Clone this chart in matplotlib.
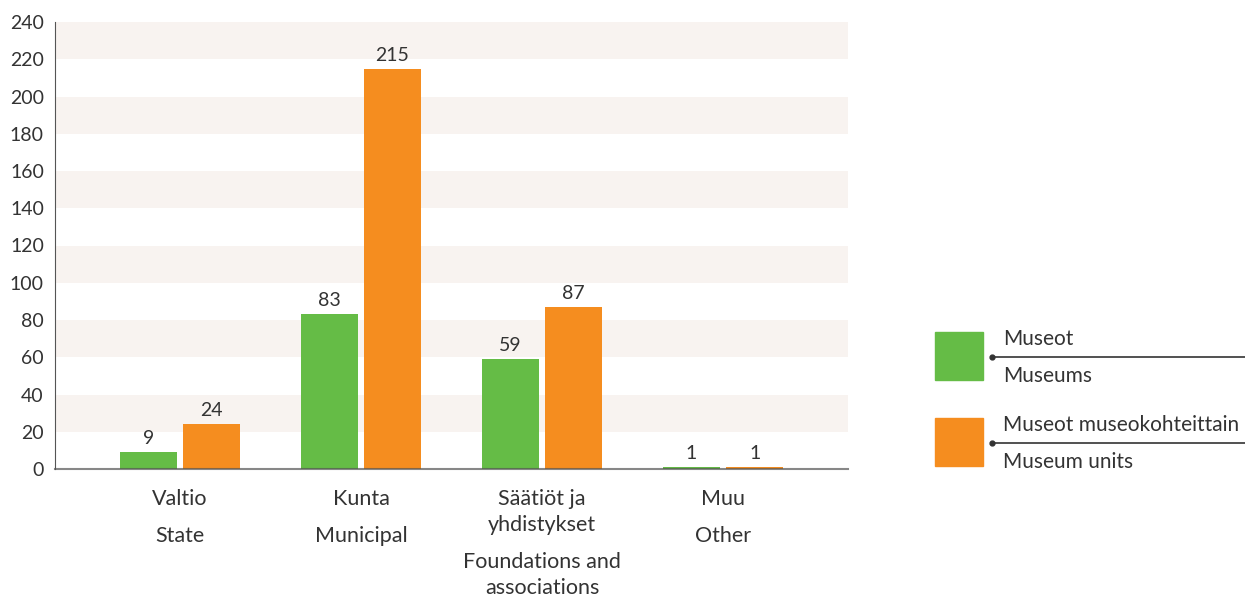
import matplotlib.pyplot as plt
from matplotlib.patches import Rectangle
from matplotlib.lines import Line2D

plt.rcParams['font.family'] = ['Lato', 'DejaVu Sans']

# Data
cat_fi = [['Valtio'], ['Kunta'], ['Säätiöt ja', 'yhdistykset'], ['Muu']]
cat_en = [['State'], ['Municipal'], ['Foundations and', 'associations'], ['Other']]
museot = [9, 83, 59, 1]
units = [24, 215, 87, 1]
legend_fi = ['Museot', 'Museot museokohteittain']
legend_en = ['Museums', 'Museum units']
yticks = list(range(0, 241, 20))

green = '#65bc46'
orange = '#f58d1f'
txt = '#333333'

W, H = 1245, 597
fig = plt.figure(figsize=(W / 100, H / 100), dpi=100)
ax = fig.add_axes([55 / W, (H - 469) / H, (848 - 55) / W, (469 - 22) / H])

# background bands
for y0 in range(20, 240, 40):
    ax.axhspan(y0, y0 + 20, color='#f8f3f0', lw=0, zorder=0)

x = list(range(len(museot)))
bw = 0.315
gap = 0.017
ax.bar([i - bw / 2 - gap for i in x], museot, width=bw, color=green, zorder=2)
ax.bar([i + bw / 2 + gap for i in x], units, width=bw, color=orange, zorder=2)

for i in x:
    ax.annotate(str(museot[i]), (i - bw / 2 - gap, museot[i]), xytext=(0, 5),
                textcoords='offset pixels', ha='center', va='bottom', fontsize=14, color=txt)
    ax.annotate(str(units[i]), (i + bw / 2 + gap, units[i]), xytext=(0, 5),
                textcoords='offset pixels', ha='center', va='bottom', fontsize=14, color=txt)

# category labels
for i in x:
    top = 20
    for line in cat_fi[i]:
        ax.annotate(line, (i, 0), xycoords=('data', 'axes fraction'), xytext=(0, -top),
                    textcoords='offset pixels', ha='center', va='top', fontsize=15.5, color=txt)
        last = top
        top += 26
    top = last + 37
    for line in cat_en[i]:
        ax.annotate(line, (i, 0), xycoords=('data', 'axes fraction'), xytext=(0, -top),
                    textcoords='offset pixels', ha='center', va='top', fontsize=15.5, color=txt)
        top += 26

ax.set_xlim(-0.69, 3.69)
ax.set_ylim(0, 240)
ax.set_yticks(yticks)
ax.set_xticks([])
ax.tick_params(axis='y', length=0, labelsize=14, labelcolor=txt, pad=8)
for s in ['top', 'right']:
    ax.spines[s].set_visible(False)
ax.spines['left'].set_color('#555555')
ax.spines['bottom'].set_color('#555555')
ax.spines['bottom'].set_alpha(0.7)
ax.spines['bottom'].set_linewidth(1.5)
ax.spines['left'].set_zorder(3)
ax.spines['bottom'].set_zorder(3)

# legend
for k, col in enumerate([green, orange]):
    top = 332 + k * 86
    fig.patches.append(Rectangle((935 / W, (H - top - 48) / H), 48 / W, 48 / H,
                                 transform=fig.transFigure, color=col))
    ly = (H - top - 25) / H
    fig.add_artist(Line2D([992 / W, 1.0], [ly, ly], color='#333333', lw=1.2))
    fig.add_artist(Line2D([992 / W], [ly], marker='o', ms=3.5, color='#333333'))
    fig.text(1003 / W, (H - top - 7) / H, legend_fi[k], fontsize=15, color=txt, va='center')
    fig.text(1003 / W, (H - top - 44) / H, legend_en[k], fontsize=15, color=txt, va='center')

fig.savefig('out.png', dpi=100)
